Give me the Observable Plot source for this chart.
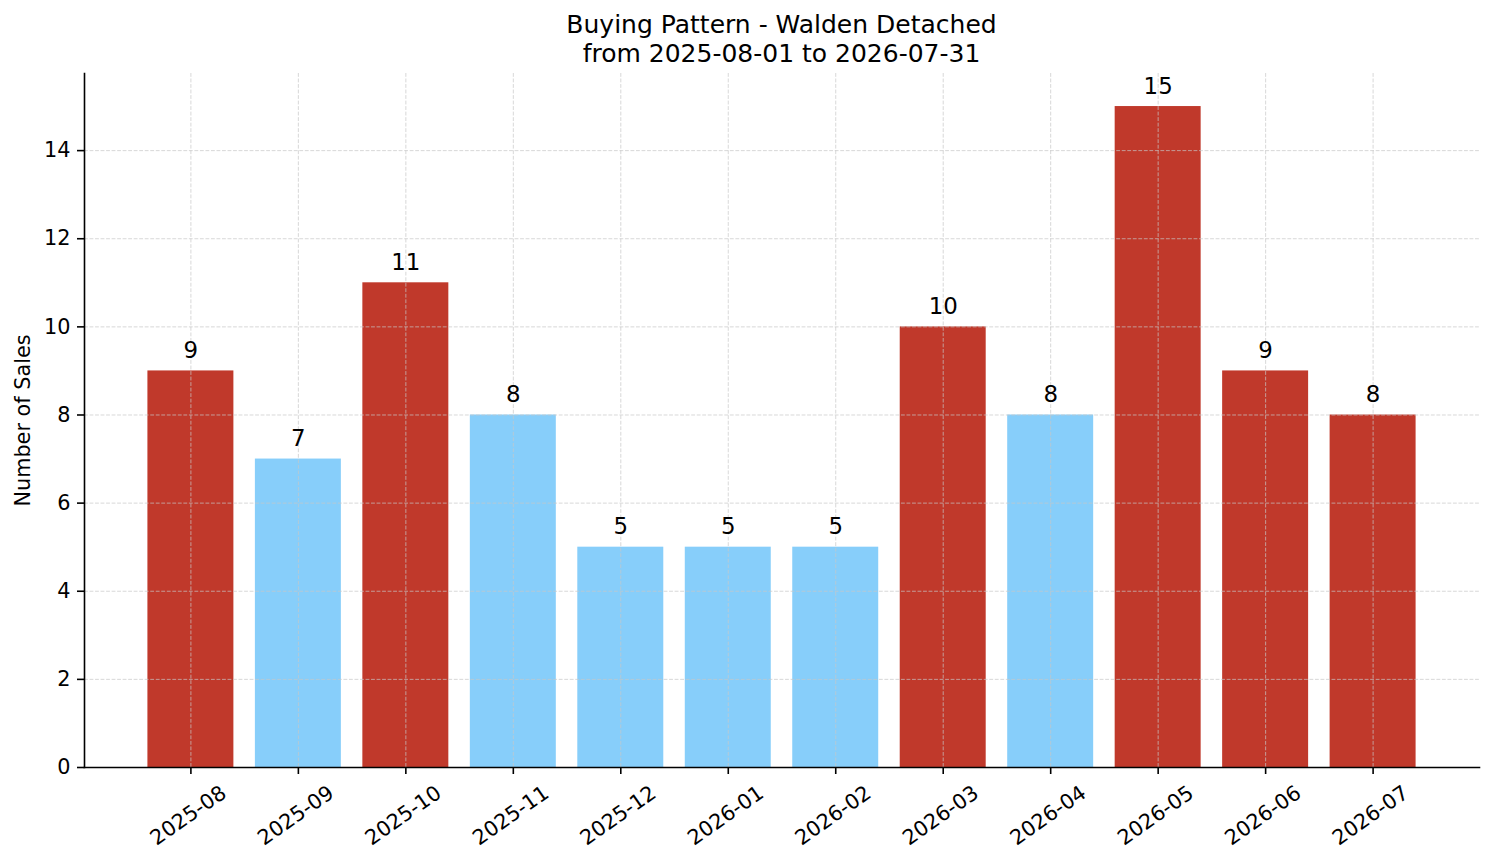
<!DOCTYPE html>
<html>
<head>
<meta charset="utf-8">
<script src="https://cdn.jsdelivr.net/npm/d3@7"></script>
<script src="https://cdn.jsdelivr.net/npm/@observablehq/plot@0.6"></script>
<style>
  body { margin: 0; background: #fff; font-family: "DejaVu Sans", sans-serif; }
  #title { margin-left: 84px; width: 1395px; text-align: center; font-size: 25px; line-height: 29px; padding-top: 10px; height: 60px; color: #000; }
  #chart svg { display: block; }
</style>
</head>
<body>
<div id="title"></div>
<div id="chart"></div>
<script>
const titleLine1 = "Buying Pattern - Walden Detached";
const titleLine2 = "from 2025-08-01 to 2026-07-31";
const yLabel = "Number of Sales";
const months = ["2025-08","2025-09","2025-10","2025-11","2025-12","2026-01","2026-02","2026-03","2026-04","2026-05","2026-06","2026-07"];
const sales = [9, 7, 11, 8, 5, 5, 5, 10, 8, 15, 9, 8];
const groups = ["high","low","high","low","low","low","low","high","low","high","high","high"];
const groupColors = ["#c0392b", "#87cefa"];
const yTicks = [0, 2, 4, 6, 8, 10, 12, 14];

document.getElementById("title").innerHTML = titleLine1 + "<br>" + titleLine2;

const data = months.map((m, i) => ({month: m, sales: sales[i], group: groups[i]}));

const gridStyle = {stroke: "#c8c8c8", strokeOpacity: 0.7, strokeWidth: 1, strokeDasharray: "3.85,1.67"};

const chart = Plot.plot({
  width: 1494,
  height: 793,
  marginTop: 3,
  marginBottom: 96,
  marginLeft: 84,
  marginRight: 15,
  style: {fontFamily: "DejaVu Sans", fontSize: "20.8px", color: "#000", background: "#fff"},
  x: {domain: months, paddingInner: 0.2, paddingOuter: 0.59, align: 0.5, round: false},
  y: {domain: [0, 15.75]},
  color: {domain: ["high", "low"], range: groupColors},
  marks: [
    Plot.barY(data, {x: "month", y: "sales", fill: "group"}),
    Plot.gridX(months, gridStyle),
    Plot.gridY(yTicks, gridStyle),
    Plot.axisY(yTicks, {tickSize: 7, tickPadding: 7, stroke: "#000", strokeWidth: 1.6, fontSize: 20.8, label: null}),
    Plot.axisX(months, {tickSize: 7, stroke: "#000", strokeWidth: 1.6, tickFormat: () => "", label: null}),
    Plot.frame({anchor: "left", stroke: "#000", strokeWidth: 1.6}),
    Plot.frame({anchor: "bottom", stroke: "#000", strokeWidth: 1.6}),
    Plot.text(months, {x: d => d, frameAnchor: "bottom", dy: 48, dx: -2.5, rotate: -35, textAnchor: "middle", lineAnchor: "middle", fontSize: 20.8, fill: "#000"}),
    Plot.text(data, {x: "month", y: "sales", text: d => String(d.sales), dy: -13, lineAnchor: "bottom", textAnchor: "middle", fontSize: 22.9, fill: "#000"}),
    Plot.text([yLabel], {frameAnchor: "left", dx: -61, rotate: -90, textAnchor: "middle", lineAnchor: "middle", fontSize: 20.8, fill: "#000"})
  ]
});
document.getElementById("chart").appendChild(chart);
</script>
</body>
</html>
